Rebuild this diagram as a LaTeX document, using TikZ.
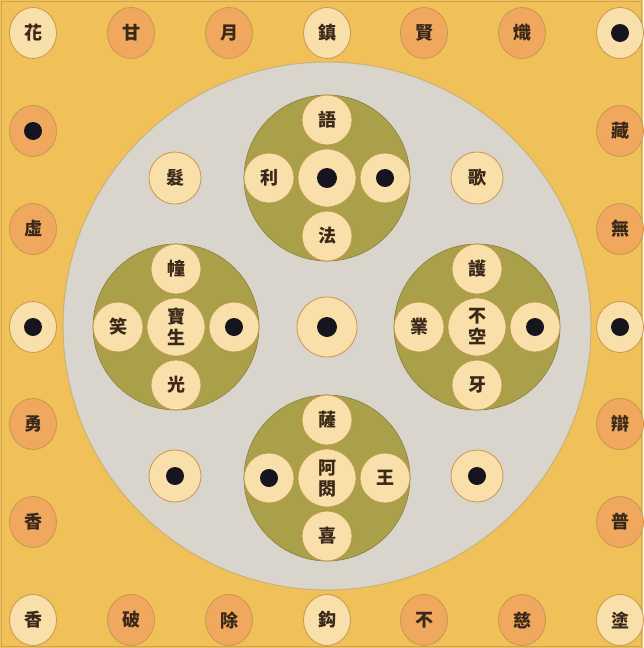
\documentclass[tikz,border=0pt]{standalone}
\usepackage{fontspec}
\newfontfamily\cjk{Noto Sans CJK TC}
\usetikzlibrary{shapes.geometric}
\definecolor{bgc}{HTML}{EFC158}
\definecolor{greyc}{HTML}{D9D5CD}
\definecolor{greyedge}{HTML}{C9B27A}
\definecolor{olivec}{HTML}{A9A049}
\definecolor{creamc}{HTML}{F9DFA9}
\definecolor{orangec}{HTML}{EFA85E}
\definecolor{edgec}{HTML}{C8964E}
\definecolor{dotc}{HTML}{15141F}
\definecolor{inkc}{HTML}{3A2818}
\begin{document}
\begin{tikzpicture}[x=1pt,y=-1pt,
  every node/.style={font=\cjk\bfseries\fontsize{18}{21}\selectfont, text=inkc, inner sep=0pt, align=center},
  outer/.style={ellipse, minimum width=47pt, minimum height=51pt, draw=edgec, line width=0.8pt},
  lt/.style={outer, fill=creamc},
  og/.style={outer, fill=orangec},
  sat/.style={circle, minimum size=50pt, draw=edgec!80!olivec, line width=0.8pt, fill=creamc},
  mid/.style={circle, minimum size=58pt, draw=edgec!80!olivec, line width=0.8pt, fill=creamc},
  free/.style={circle, minimum size=52pt, draw=edgec, line width=0.8pt, fill=creamc},
  hub/.style={circle, minimum size=60pt, draw=edgec, line width=0.8pt, fill=creamc},
  group/.style={circle, minimum size=166pt, fill=olivec, draw=olivec!80!black, line width=0.6pt},
  dot/.style={path picture={\fill[dotc] (path picture bounding box.center) circle (#1);}},
  dot/.default=9pt
]
\fill[bgc] (0,0) rectangle (643,648);
\draw[edgec!70!bgc, line width=1pt] (1.5,1.5) rectangle (641.5,646.5);
\useasboundingbox (0,0) rectangle (643,648);
% big grey circle
\node[circle, minimum size=528pt, fill=greyc, draw=greyedge, line width=1pt] (disc) at (327,326) {};
% top row
\node[lt] (t1) at (33,33) {花};
\node[og] (t2) at (131,33) {甘};
\node[og] (t3) at (229,33) {月};
\node[lt] (t4) at (327,33) {鎮};
\node[og] (t5) at (424,33) {賢};
\node[og] (t6) at (522,33) {熾};
\node[lt, dot] (t7) at (620,33) {};
% left column
\node[og, dot] (l2) at (33,131) {};
\node[og] (l3) at (33,229) {虛};
\node[lt, dot] (l4) at (33,327) {};
\node[og] (l5) at (33,424) {勇};
\node[og] (l6) at (33,522) {香};
% right column
\node[og] (r2) at (620,131) {藏};
\node[og] (r3) at (620,229) {無};
\node[lt, dot] (r4) at (620,327) {};
\node[og] (r5) at (620,424) {辯};
\node[og] (r6) at (620,522) {普};
% bottom row
\node[lt] (b1) at (33,620) {香};
\node[og] (b2) at (131,620) {破};
\node[og] (b3) at (229,620) {除};
\node[lt] (b4) at (327,620) {鈎};
\node[og] (b5) at (424,620) {不};
\node[og] (b6) at (522,620) {慈};
\node[lt] (b7) at (620,620) {塗};
% free circles on the disc
\node[free] (f1) at (175,178) {髮};
\node[free] (f2) at (477,178) {歌};
\node[free, dot] (f3) at (175,476) {};
\node[free, dot] (f4) at (477,476) {};
\node[hub, dot=10pt] (hub) at (327,327) {};
% top group
\node[group] (gt) at (327,178) {};
\node[mid, dot=10pt] (gtc) at (gt) {};
\node[sat] (gtn) at ([yshift=58pt]gt.center) {語};
\node[sat] (gts) at ([yshift=-58pt]gt.center) {法};
\node[sat] (gtw) at ([xshift=-58pt]gt.center) {利};
\node[sat, dot] (gte) at ([xshift=58pt]gt.center) {};
% left group
\node[group] (gl) at (176,327) {};
\node[mid] (glc) at (gl) {寶\\生};
\node[sat] (gln) at ([yshift=58pt]gl.center) {幢};
\node[sat] (gls) at ([yshift=-58pt]gl.center) {光};
\node[sat] (glw) at ([xshift=-58pt]gl.center) {笑};
\node[sat, dot] (gle) at ([xshift=58pt]gl.center) {};
% right group
\node[group] (gr) at (477,327) {};
\node[mid] (grc) at (gr) {不\\空};
\node[sat] (grn) at ([yshift=58pt]gr.center) {護};
\node[sat] (grs) at ([yshift=-58pt]gr.center) {牙};
\node[sat] (grw) at ([xshift=-58pt]gr.center) {業};
\node[sat, dot] (gre) at ([xshift=58pt]gr.center) {};
% bottom group
\node[group] (gb) at (327,478) {};
\node[mid] (gbc) at (gb) {阿\\閦};
\node[sat] (gbn) at ([yshift=58pt]gb.center) {薩};
\node[sat] (gbs) at ([yshift=-58pt]gb.center) {喜};
\node[sat, dot] (gbw) at ([xshift=-58pt]gb.center) {};
\node[sat] (gbe) at ([xshift=58pt]gb.center) {王};
\end{tikzpicture}
\end{document}
